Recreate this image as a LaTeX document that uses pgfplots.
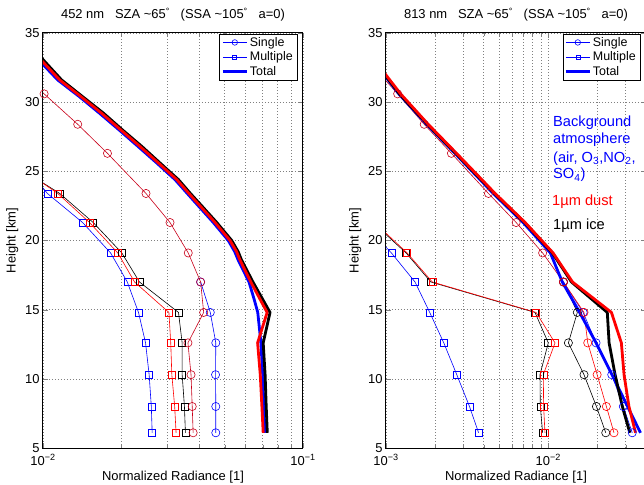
\documentclass[border=0pt]{standalone}
\usepackage{pgfplots}
\pgfplotsset{compat=1.18}
\usepackage{fontspec}
\setmainfont{Liberation Sans}
\definecolor{dred}{RGB}{200,0,25}
\tikzset{
  thn/.style={line width=0.6bp, mark options={solid, line width=0.6bp}},
  sng/.style={thn, mark=o, mark size=4.1bp},
  mlt/.style={thn, mark=square, mark size=3.5bp},
  tot/.style={line width=2.8bp, line join=round},
}
\pgfplotsset{every axis/.append style={
    scale only axis, width=260bp, height=415bp,
    ymin=5, ymax=35, ytick={5,10,...,35},
    axis line style={line width=1bp},
    major tick length=5bp, minor tick length=3bp,
    xmajorgrids, xminorgrids, ymajorgrids,
    grid style={dash pattern=on 0.8bp off 2.2bp, black!50, line width=0.6bp},
    minor grid style={dash pattern=on 0.8bp off 2.2bp, black!50, line width=0.6bp},
    tick label style={font=\fontsize{13}{15}\selectfont},
    xticklabel style={yshift=-3bp},
    label style={font=\fontsize{13}{15}\selectfont},
    xlabel style={yshift=1bp},
    title style={font=\fontsize{13}{15}\selectfont, yshift=2bp},
    /pgf/number format/assume math mode=true,
    ylabel={Height [km]}, xlabel={Normalized Radiance [1]},
    legend style={at={(1,1)}, anchor=north east, xshift=-6bp, yshift=-1bp,
      font=\fontsize{12.5}{14}\selectfont, draw=black, inner xsep=2bp, inner ysep=1bp},
    legend cell align=left,
  }}
\newcommand{\myleg}{%
  \addlegendimage{blue, line width=0.6bp, mark=o, mark size=2.8bp, mark options={solid}}
  \addlegendentry{Single}
  \addlegendimage{blue, line width=0.6bp, mark=square, mark size=2bp, mark options={solid}}
  \addlegendentry{Multiple}
  \addlegendimage{blue, line width=2.2bp}
  \addlegendentry{Total}
}
\begin{document}
\begin{tikzpicture}
\useasboundingbox (0,0) rectangle (644bp,485bp);
% ---------------- left panel ----------------
\begin{axis}[xmode=log, at={(43bp,37bp)}, anchor=south west,
  xmin=0.01, xmax=0.1,
  xtick={0.01,0.1}, xticklabels={10\textsuperscript{−2},10\textsuperscript{−1}},
  minor xtick={0.02,0.03,0.04,0.05,0.06,0.07,0.08,0.09},
  legend image code/.code={\draw[mark repeat=2,mark phase=2,#1] plot coordinates {(0bp,0bp) (12bp,0bp) (24bp,0bp)};},
  title={452 nm\ \ \ SZA \textasciitilde65\textsuperscript{°}\ \ \ (SSA \textasciitilde105\textsuperscript{°}\ \ \ a=0)}]
\myleg
% single (blue; upper part coincides with the others)
\addplot[sng, blue, forget plot] table[x=v,y=h] {
h v
6.1 0.0462
8.0 0.0462
10.3 0.0461
12.6 0.0462
14.8 0.0440
17.0 0.0404
};
% multiple
\addplot[mlt, blue, forget plot] table[x=v,y=h] {
h v
6.1 0.0263
8.0 0.0261
10.3 0.0256
12.6 0.0248
14.8 0.0233
17.0 0.0211
19.1 0.0182
21.3 0.0142
23.4 0.0104
26.3 0.0078
};
\addplot[mlt, black, forget plot] table[x=v,y=h] {
h v
6.1 0.0353
8.0 0.0350
10.3 0.0343
12.6 0.0343
14.8 0.0332
17.0 0.0235
19.1 0.0201
21.3 0.0156
23.4 0.0116
26.3 0.0066
};
\addplot[mlt, red, forget plot] table[x=v,y=h] {
h v
6.1 0.0325
8.0 0.0321
10.3 0.0313
12.6 0.0310
14.8 0.0305
17.0 0.0225
19.1 0.0194
21.3 0.0151
23.4 0.0114
26.3 0.0068
};
% single red/black (coincident)
\addplot[sng, dred, forget plot] table[x=v,y=h] {
h v
6.1 0.0378
8.0 0.0375
10.3 0.0371
12.6 0.0361
14.8 0.0415
17.0 0.0404
19.1 0.0362
21.3 0.0308
23.4 0.0249
26.3 0.0177
28.4 0.0136
30.6 0.0101
32.8 0.0075
};
% totals
\addplot[tot, blue, no marks, forget plot] table[x=v,y=h] {
h v
6.1 0.0714
8.0 0.0707
10.3 0.0700
12.6 0.0689
14.8 0.0670
15.7 0.0650
17.0 0.0620
18.6 0.0563
19.2 0.0546
20.0 0.0516
21.3 0.0452
22.5 0.0396
23.4 0.0359
24.4 0.0322
25.6 0.0274
26.8 0.0232
28.0 0.0196
29.2 0.0165
30.4 0.0138
31.6 0.0114
32.9 0.0098
34.5 0.0082
};
\addplot[tot, black, no marks, forget plot] table[x=v,y=h] {
h v
6.1 0.0729
8.0 0.0722
10.3 0.0715
12.6 0.0703
14.8 0.0747
17.0 0.0642
18.6 0.0580
19.2 0.0563
20.0 0.0532
21.3 0.0466
22.5 0.0408
23.4 0.0369
24.4 0.0332
25.6 0.0282
26.8 0.0240
28.0 0.0202
29.2 0.0171
30.4 0.0142
31.6 0.0118
32.9 0.0102
34.5 0.0086
};
\addplot[tot, red, no marks, forget plot] table[x=v,y=h] {
h v
6.1 0.0703
8.0 0.0695
10.3 0.0685
12.6 0.0669
14.8 0.0728
17.0 0.0630
18.6 0.0572
19.2 0.0555
20.0 0.0524
21.3 0.0459
22.5 0.0402
23.4 0.0364
24.4 0.0327
25.6 0.0278
26.8 0.0236
28.0 0.0199
29.2 0.0168
30.4 0.0140
31.6 0.0116
32.9 0.0100
34.5 0.0084
};
\end{axis}
% ---------------- right panel ----------------
\begin{axis}[xmode=log, at={(386bp,37bp)}, anchor=south west,
  xmin=0.001, xmax=0.04,
  xtick={0.001,0.01}, xticklabels={10\textsuperscript{−3},10\textsuperscript{−2}},
  minor xtick={0.002,0.003,0.004,0.005,0.006,0.007,0.008,0.009,0.02,0.03},
  legend image code/.code={\draw[mark repeat=2,mark phase=2,#1] plot coordinates {(0bp,0bp) (12bp,0bp) (24bp,0bp)};},
  title={813 nm\ \ \ SZA \textasciitilde65\textsuperscript{°}\ \ \ (SSA \textasciitilde105\textsuperscript{°}\ \ \ a=0)}]
\myleg
% single
\addplot[sng, blue, forget plot] table[x=v,y=h] {
h v
6.1 0.0329
8.0 0.0290
10.3 0.0246
12.6 0.0197
14.8 0.0164
17.0 0.0124
};
\addplot[sng, black, forget plot] table[x=v,y=h] {
h v
6.1 0.0226
8.0 0.0198
10.3 0.0166
12.6 0.0133
14.8 0.0151
17.0 0.0124
};
\addplot[sng, red, forget plot] table[x=v,y=h] {
h v
6.1 0.0254
8.0 0.0228
10.3 0.0200
12.6 0.0175
14.8 0.0166
17.0 0.0124
};
\addplot[sng, dred, forget plot] table[x=v,y=h] {
h v
17.0 0.0124
19.1 0.00923
21.3 0.00634
23.4 0.00428
26.3 0.00253
28.4 0.00172
30.6 0.00118
32.8 0.00080
};
% multiple
\addplot[mlt, blue, forget plot] table[x=v,y=h] {
h v
6.1 0.00372
8.0 0.00327
10.3 0.00273
12.6 0.00227
14.8 0.00186
17.0 0.00151
19.1 0.00108
21.3 0.00072
};
\addplot[mlt, black, forget plot] table[x=v,y=h] {
h v
6.1 0.00923
8.0 0.00893
10.3 0.00889
12.6 0.0100
14.8 0.00828
17.0 0.00189
19.1 0.00133
21.3 0.00083
};
\addplot[mlt, red, forget plot] table[x=v,y=h] {
h v
6.1 0.00954
8.0 0.00936
10.3 0.00932
12.6 0.0110
14.8 0.00841
17.0 0.00193
19.1 0.00135
21.3 0.00085
};
% totals
\addplot[tot, blue, no marks, forget plot] table[x=v,y=h] {
h v
6.1 0.0370
8.0 0.0308
10.3 0.0247
12.6 0.0197
14.8 0.0156
17.0 0.0122
19.1 0.0103
21.3 0.00700
23.4 0.00458
26.3 0.00266
28.4 0.00178
30.6 0.00120
32.8 0.00086
};
\addplot[tot, black, no marks, forget plot] table[x=v,y=h] {
h v
6.1 0.0318
8.0 0.0286
10.3 0.0258
12.6 0.0237
14.8 0.0231
17.0 0.0139
19.1 0.0106
21.3 0.00715
23.4 0.00466
26.3 0.00269
28.4 0.00180
30.6 0.00121
32.8 0.00087
};
\addplot[tot, red, no marks, forget plot] table[x=v,y=h] {
h v
6.1 0.0345
8.0 0.0314
10.3 0.0293
12.6 0.0282
14.8 0.0245
17.0 0.0141
19.1 0.0107
21.3 0.00720
23.4 0.00470
26.3 0.00272
28.4 0.00182
30.6 0.00123
32.8 0.00088
};
\end{axis}
% annotations
\begin{scope}[every node/.style={anchor=base west, inner sep=0pt, font=\fontsize{14.7}{17}\selectfont}]
\node[blue] at (553bp,{485bp-126.7bp}) {Background};
\node[blue] at (553bp,{485bp-144bp}) {atmosphere};
\node[blue] at (553bp,{485bp-162.7bp}) {(air, O\textsubscript{3},NO\textsubscript{2},};
\node[blue] at (553bp,{485bp-179bp}) {SO\textsubscript{4})};
\node[red] at (552bp,{485bp-205.7bp}) {1µm dust};
\node[black] at (553bp,{485bp-230bp}) {1µm ice};
\end{scope}
\end{tikzpicture}
\end{document}
